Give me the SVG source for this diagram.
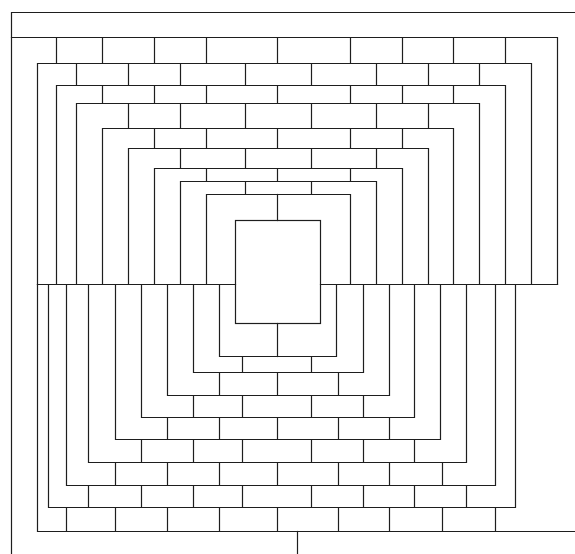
<svg xmlns="http://www.w3.org/2000/svg" width="575" height="554" viewBox="0 0 575 554">
<style>
.l{fill:none;stroke:#1e1e1e;stroke-width:1.2;stroke-linecap:square}
</style>
<rect width="575" height="554" fill="#ffffff"/>
<g id="frame" class="l">
<path d="M575 12.5H11.5V554"/>
<path d="M297.5 531.5V554"/>
</g>
<g id="upper-rings" class="l">
<path d="M11.5 37.5H557.5V284.5"/>
<path d="M37.5 284.5V63.5H531.5V284.5"/>
<path d="M56.5 284.5V85.5H505.5V284.5"/>
<path d="M76.5 284.5V103.5H479.5V284.5"/>
<path d="M102.5 284.5V128.5H453.5V284.5"/>
<path d="M128.5 284.5V148.5H428.5V284.5"/>
<path d="M154.5 284.5V168.5H402.5V284.5"/>
<path d="M180.5 284.5V181.5H376.5V284.5"/>
<path d="M206.5 284.5V194.5H350.5V284.5"/>
</g>
<g id="center" class="l">
<rect x="235.5" y="220.5" width="85" height="103"/>
</g>
<g id="middle-line" class="l">
<path d="M37.5 284.5H235.5M320.5 284.5H557.5"/>
</g>
<g id="lower-rings" class="l">
<path d="M37.5 284.5V531.5H575"/>
<path d="M48.5 284.5V507.5H515.5V284.5"/>
<path d="M66.5 284.5V485.5H495.5V284.5"/>
<path d="M88.5 284.5V462.5H466.5V284.5"/>
<path d="M115.5 284.5V439.5H440.5V284.5"/>
<path d="M141.5 284.5V417.5H414.5V284.5"/>
<path d="M167.5 284.5V395.5H389.5V284.5"/>
<path d="M193.5 284.5V372.5H363.5V284.5"/>
<path d="M219.5 284.5V356.5H336.5V284.5"/>
</g>
<g id="upper-bricks" class="l">
<path d="M56.5 37.5V63.5M102.5 37.5V63.5M154.5 37.5V63.5M206.5 37.5V63.5M277.5 37.5V63.5M350.5 37.5V63.5M402.5 37.5V63.5M453.5 37.5V63.5M505.5 37.5V63.5"/>
<path d="M76.5 63.5V85.5M128.5 63.5V85.5M180.5 63.5V85.5M245.5 63.5V85.5M311.5 63.5V85.5M376.5 63.5V85.5M428.5 63.5V85.5M479.5 63.5V85.5"/>
<path d="M102.5 85.5V103.5M154.5 85.5V103.5M206.5 85.5V103.5M277.5 85.5V103.5M350.5 85.5V103.5M402.5 85.5V103.5M453.5 85.5V103.5"/>
<path d="M128.5 103.5V128.5M180.5 103.5V128.5M245.5 103.5V128.5M311.5 103.5V128.5M376.5 103.5V128.5M428.5 103.5V128.5"/>
<path d="M154.5 128.5V148.5M206.5 128.5V148.5M277.5 128.5V148.5M350.5 128.5V148.5M402.5 128.5V148.5"/>
<path d="M180.5 148.5V168.5M245.5 148.5V168.5M311.5 148.5V168.5M376.5 148.5V168.5"/>
<path d="M206.5 168.5V181.5M277.5 168.5V181.5M350.5 168.5V181.5"/>
<path d="M245.5 181.5V194.5M311.5 181.5V194.5"/>
<path d="M277.5 194.5V220.5"/>
</g>
<g id="lower-bricks" class="l">
<path d="M277.5 323.5V356.5"/>
<path d="M242.5 356.5V372.5M311.5 356.5V372.5"/>
<path d="M219.5 372.5V395.5M277.5 372.5V395.5M338.5 372.5V395.5"/>
<path d="M193.5 395.5V417.5M242.5 395.5V417.5M311.5 395.5V417.5M363.5 395.5V417.5"/>
<path d="M167.5 417.5V439.5M219.5 417.5V439.5M277.5 417.5V439.5M338.5 417.5V439.5M389.5 417.5V439.5"/>
<path d="M141.5 439.5V462.5M193.5 439.5V462.5M242.5 439.5V462.5M311.5 439.5V462.5M363.5 439.5V462.5M414.5 439.5V462.5"/>
<path d="M115.5 462.5V485.5M167.5 462.5V485.5M219.5 462.5V485.5M277.5 462.5V485.5M338.5 462.5V485.5M389.5 462.5V485.5M442.5 462.5V485.5"/>
<path d="M88.5 485.5V507.5M141.5 485.5V507.5M193.5 485.5V507.5M242.5 485.5V507.5M311.5 485.5V507.5M363.5 485.5V507.5M414.5 485.5V507.5M466.5 485.5V507.5"/>
<path d="M66.5 507.5V531.5M115.5 507.5V531.5M167.5 507.5V531.5M219.5 507.5V531.5M277.5 507.5V531.5M338.5 507.5V531.5M389.5 507.5V531.5M442.5 507.5V531.5M495.5 507.5V531.5"/>
</g>
</svg>
